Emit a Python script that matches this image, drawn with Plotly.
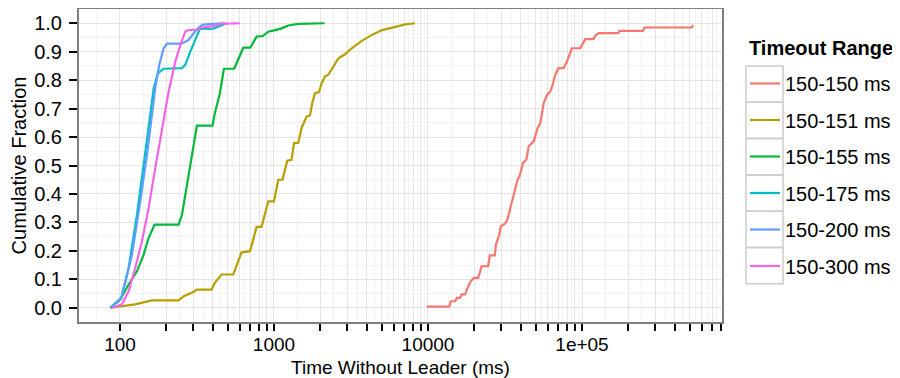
import numpy as np
import plotly.graph_objects as go

# ---------------- data ----------------
series_names = ["150-150 ms", "150-151 ms", "150-155 ms", "150-175 ms", "150-200 ms", "150-300 ms"]
series_colors = ["#F8766D", "#B79F00", "#00BA38", "#00BFC4", "#619CFF", "#F564E3"]
legend_title = "Timeout Range"

x_150_150 = [9826, 13738, 14040, 15000, 15400, 16150, 16570, 17400, 18290, 18960, 19890, 21200,
             22290, 24600, 25200, 27200, 27600, 29040, 29660, 31700, 32800, 34530, 36850, 38150,
             39300, 41370, 43500, 45030, 48540, 50340, 51540, 53650, 55010, 56360, 59270, 62250,
             63850, 67070, 70480, 75930, 79800, 85870, 97300, 101300, 104900, 118800, 121800,
             128000, 172300, 174900, 248400, 255000, 516000, 528000]
y_150_150 = [0.004, 0.004, 0.023, 0.023, 0.035, 0.035, 0.047, 0.047, 0.076, 0.093, 0.105, 0.105,
             0.146, 0.146, 0.184, 0.184, 0.222, 0.257, 0.286, 0.296, 0.310, 0.356, 0.415, 0.450,
             0.462, 0.509, 0.520, 0.567, 0.585, 0.620, 0.632, 0.649, 0.684, 0.719, 0.748, 0.760,
             0.776, 0.819, 0.842, 0.842, 0.865, 0.912, 0.912, 0.932, 0.944, 0.944, 0.955,
             0.965, 0.965, 0.973, 0.973, 0.985, 0.985, 0.993]

x_150_151 = [86.5, 108.3, 125.7, 161, 240, 259, 293, 316, 393, 413, 457, 544, 616, 699, 733, 771,
             830, 918, 1000, 1066, 1137, 1219, 1300, 1351, 1437, 1511, 1627, 1713, 1771, 1844,
             1960, 2040, 2142, 2253, 2432, 2621, 2893, 3194, 3715, 4323, 5029, 6142, 7134, 8224]
y_150_151 = [0, 0.006, 0.012, 0.026, 0.026, 0.041, 0.053, 0.064, 0.064, 0.088, 0.117, 0.117,
             0.195, 0.199, 0.240, 0.284, 0.284, 0.374, 0.374, 0.450, 0.450, 0.517, 0.520, 0.579,
             0.579, 0.632, 0.672, 0.676, 0.719, 0.754, 0.758, 0.789, 0.813, 0.819, 0.848, 0.877,
             0.891, 0.912, 0.938, 0.959, 0.976, 0.988, 0.996, 1.0]

x_150_155 = [86.5, 100.5, 113.8, 128.9, 142.5, 153.5, 167.8, 240.4, 252.7, 279, 301, 316, 399, 413,
             445.6, 473, 552, 632, 702, 771, 847, 918, 1017, 1122, 1237, 1437, 2131]
y_150_155 = [0, 0.029, 0.082, 0.128, 0.187, 0.246, 0.292, 0.292, 0.327, 0.468, 0.585, 0.640, 0.640,
             0.684, 0.754, 0.840, 0.840, 0.914, 0.914, 0.953, 0.955, 0.970, 0.976, 0.982, 0.992,
             0.998, 1.0]

x_150_175 = [86.5, 102, 113.8, 128.9, 142.5, 157.4, 165.6, 176.6, 192.3, 252.7, 265.7, 286.2, 308.5,
             330, 404, 445, 493]
y_150_175 = [0, 0.035, 0.140, 0.327, 0.503, 0.678, 0.772, 0.825, 0.840, 0.842, 0.854, 0.900, 0.941,
             0.980, 0.981, 0.990, 1.0]

x_150_200 = [86.5, 98, 103, 119.7, 135.5, 149.8, 161.3, 169.4, 180, 192.3, 202, 252, 279, 306.7,
             330, 347, 400, 480]
y_150_200 = [0, 0.023, 0.041, 0.187, 0.374, 0.538, 0.678, 0.772, 0.854, 0.912, 0.928, 0.928, 0.941,
             0.971, 0.988, 0.995, 0.998, 1.0]

x_150_300 = [90, 103, 113.8, 125.7, 138.9, 153.5, 169.4, 187.5, 207.1, 228.7, 246.8, 265.7, 279,
             314, 345, 404, 445, 600]
y_150_300 = [0, 0.012, 0.058, 0.140, 0.234, 0.351, 0.491, 0.632, 0.760, 0.865, 0.924, 0.971, 0.976,
             0.978, 0.985, 0.990, 0.998, 1.0]

series_x = [x_150_150, x_150_151, x_150_155, x_150_175, x_150_200, x_150_300]
series_y = [y_150_150, y_150_151, y_150_155, y_150_175, y_150_200, y_150_300]

# axis breaks
x_major_breaks = [m * 10 ** k for k in range(2, 6) for m in range(1, 10)]
x_label_map = {100: "100", 1000: "1000", 10000: "10000", 100000: "1e+05"}
x_tick_text = [x_label_map.get(v, "") for v in x_major_breaks]
y_breaks = [round(0.1 * i, 1) for i in range(11)]
y_tick_text = ["%.1f" % v for v in y_breaks]

# minor grid: geometric midpoints between majors (one extra below & above)
ext = [50] + x_major_breaks + [1000000]
x_minor_breaks = [float(np.sqrt(a * b)) for a, b in zip(ext[:-1], ext[1:])]

FONT = "Liberation Sans, Arial, sans-serif"
FS = 20
FSX = 19

fig = go.Figure()
for name, col, xs, ys in zip(series_names, series_colors, series_x, series_y):
    fig.add_trace(go.Scatter(x=xs, y=ys, mode="lines", name=name, legendgroup=name,
                             line=dict(color=col, width=2.2)))

# The page has an 8px body margin; work in page pixels and convert.
OFF = 8
W, H = 900 - OFF, 378 - OFF
L, R, T, B = 79 - OFF, 722 - OFF, 9 - OFF, 322 - OFF


def px2paper_x(px):
    return (px - OFF - L) / (R - L)


def px2paper_y(py):
    return (B - (py - OFF)) / (B - T)


shapes = []
box_x0, box_x1 = 746, 783
box_top, box_h = 66, 36.3
for i in range(len(series_names)):
    y0 = box_top + i * box_h
    shapes.append(dict(type="rect", xref="paper", yref="paper",
                       x0=px2paper_x(box_x0), x1=px2paper_x(box_x1),
                       y0=px2paper_y(y0), y1=px2paper_y(y0 + box_h),
                       line=dict(color="#CCCCCC", width=1.5), fillcolor="rgba(0,0,0,0)",
                       layer="below"))

fig.update_layout(
    width=W, height=H,
    margin=dict(l=L, r=W - R, t=T, b=H - B, pad=0),
    paper_bgcolor="white", plot_bgcolor="white",
    font=dict(family=FONT, size=FS, color="black"),
    shapes=shapes,
    annotations=[dict(text="<b>%s</b>" % legend_title, xref="paper", yref="paper",
                      x=px2paper_x(747), y=px2paper_y(48), xanchor="left", yanchor="middle",
                      showarrow=False, font=dict(family=FONT, size=FS, color="black"))],
    legend=dict(
        font=dict(family=FONT, size=FS, color="black"),
        x=px2paper_x(745), xanchor="left",
        y=px2paper_y(64), yanchor="top",
        bgcolor="rgba(0,0,0,0)", borderwidth=0,
        tracegroupgap=7.5,
        traceorder="grouped",
    ),
    xaxis=dict(
        type="log", range=[1.734, 5.909],
        tickmode="array", tickvals=x_major_breaks, ticktext=x_tick_text,
        ticks="outside", ticklen=7, tickwidth=2, tickcolor="black",
        tickfont=dict(family=FONT, size=FSX, color="black"),
        ticklabelstandoff=-3,
        showline=True, linecolor="#7F7F7F", linewidth=2, mirror=True,
        showgrid=True, gridcolor="#E5E5E5", gridwidth=1,
        minor=dict(tickmode="array", tickvals=x_minor_breaks, showgrid=True,
                   gridcolor="#F3F3F3", gridwidth=1, ticks=""),
        zeroline=False,
        title=dict(text="Time Without Leader (ms)", font=dict(family=FONT, size=FSX, color="black"),
                   standoff=8),
        automargin=False,
    ),
    yaxis=dict(
        range=[-0.05, 1.05],
        tickmode="array", tickvals=y_breaks, ticktext=y_tick_text,
        ticks="outside", ticklen=8, tickwidth=2, tickcolor="black",
        tickfont=dict(family=FONT, size=FS, color="black"),
        ticklabelstandoff=3,
        showline=True, linecolor="#7F7F7F", linewidth=2, mirror=True,
        showgrid=True, gridcolor="#E5E5E5", gridwidth=1,
        minor=dict(dtick=0.05, tick0=0, showgrid=True, gridcolor="#F3F3F3", gridwidth=1, ticks=""),
        zeroline=False,
        title=dict(text="Cumulative Fraction", font=dict(family=FONT, size=FS, color="black"),
                   standoff=10),
        automargin=False,
    ),
)

fig.write_html("out.html")
